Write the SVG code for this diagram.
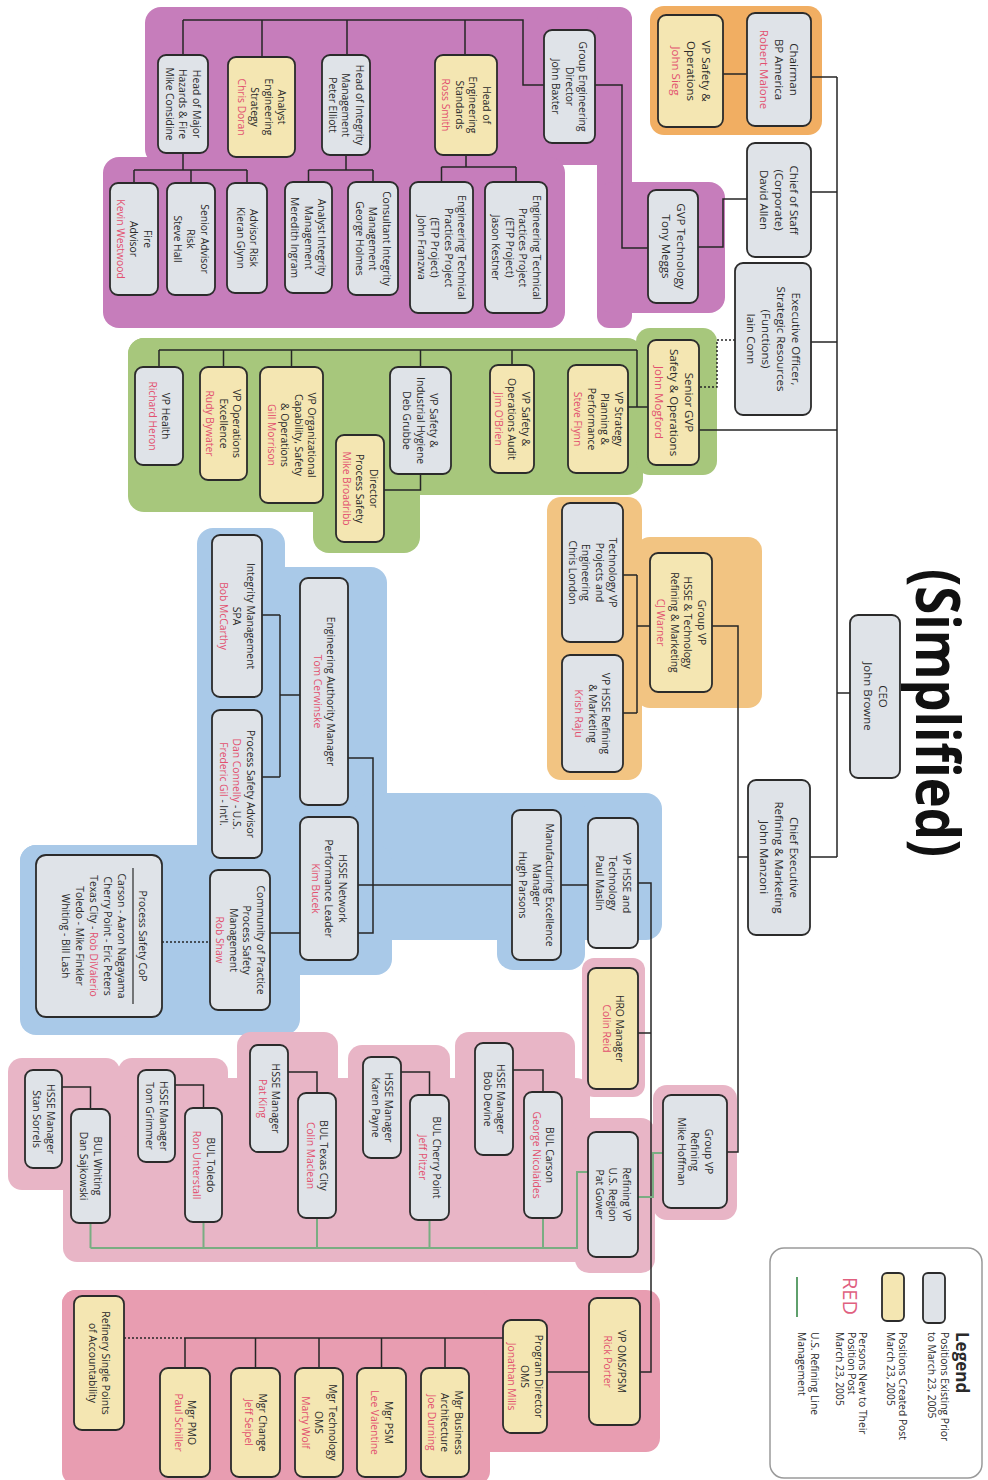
<svg xmlns="http://www.w3.org/2000/svg" width="988" height="1480" viewBox="0 0 988 1480">
<defs>
<style>
.bg{stroke:none}
.pu{fill:#c67dbb}.gr{fill:#a7c77c}.o1{fill:#f1ae62}.o2{fill:#f2c482}.bl{fill:#a9c9e8}.pk{fill:#e8b5c6}.rd{fill:#e89db1}
.b{fill:#dfe3e8;stroke:#2b2b2b;stroke-width:1.8}
.y{fill:#f4e6b2;stroke:#2b2b2b;stroke-width:1.8}
.t{font-family:"Open Sans","Noto Sans","Liberation Sans",sans-serif;font-size:10.3px;fill:#2a2a2a;text-anchor:middle}
.tl{font-size:11.5px}
.r{fill:#e2506f}
.c{fill:none;stroke:#262626;stroke-width:1.5}
.d{stroke-dasharray:2 2}
.g{fill:none;stroke:#79ad82;stroke-width:2}
.lg{font-family:"Open Sans","Noto Sans","Liberation Sans",sans-serif;font-size:10.3px;fill:#2a2a2a}
</style>
</defs>
<rect width="988" height="1480" fill="#ffffff"/>

<g id="regions" class="bg">
<rect class="o1" x="650" y="6" width="172" height="129" rx="14"/>
<rect class="pu" x="145" y="7" width="487" height="158" rx="16"/>
<rect class="pu" x="103" y="157" width="462" height="171" rx="16"/>
<rect class="pu" x="597" y="7" width="35" height="321" rx="12"/>
<rect class="pu" x="597" y="182" width="128" height="131" rx="16"/>
<rect class="gr" x="128" y="338" width="515" height="157" rx="16"/>
<rect class="gr" x="128" y="338" width="202" height="174" rx="16"/>
<rect class="gr" x="313" y="420" width="107" height="133" rx="16"/>
<rect class="gr" x="636" y="328" width="81" height="147" rx="14"/>
<rect class="o2" x="547" y="497" width="95" height="283" rx="14"/>
<rect class="o2" x="636" y="537" width="126" height="171" rx="14"/>
<rect class="bl" x="197" y="528" width="88" height="342" rx="16"/>
<rect class="bl" x="197" y="567" width="190" height="303" rx="16"/>
<rect class="bl" x="355" y="793" width="307" height="147" rx="16"/>
<rect class="bl" x="497" y="793" width="88" height="177" rx="16"/>
<rect class="bl" x="20" y="845" width="280" height="190" rx="16"/>
<rect class="bl" x="20" y="845" width="372" height="130" rx="16"/>
<rect class="pk" x="582" y="958" width="63" height="139" rx="12"/>
<rect class="pk" x="653" y="1085" width="84" height="135" rx="14"/>
<rect class="pk" x="63" y="1078" width="527" height="184" rx="14"/>
<rect class="pk" x="575" y="1118" width="80" height="155" rx="14"/>
<rect class="pk" x="455" y="1032" width="120" height="100" rx="14"/>
<rect class="pk" x="348" y="1045" width="102" height="80" rx="14"/>
<rect class="pk" x="237" y="1032" width="101" height="90" rx="14"/>
<rect class="pk" x="118" y="1058" width="110" height="80" rx="14"/>
<rect class="pk" x="8" y="1058" width="112" height="132" rx="14"/>
<rect class="rd" x="62" y="1290" width="598" height="162" rx="14"/>
<rect class="rd" x="62" y="1290" width="428" height="195" rx="14"/>
</g>

<g id="connectors">
<path class="c" d="M837,77V857M811,77H837M811,192H837M811,342H837M699,430H837M837,693H850M810,857H837"/>
<path class="c" d="M723,74H747M747,199H723V247H698M648,248H622V85H595M544,85H523V20H183M183,20V55M262,20V57M347,20V55M465,20V55"/>
<path class="c" d="M183,153V170M134,170H247M134,170V183M191,170V183M247,170V183M346,155V170M308.5,170H373M308.5,170V182M373,170V182M466,155V167M441.5,167H516M441.5,167V182M516,167V182"/>
<path class="c" d="M648,407H628M637,407V350M159,350H637M159,350V367M223.5,350V367M291.5,350V367M420.5,350V367M512,350V365M420.5,474V490H384"/>
<path class="c d" d="M735,340H717V387H699"/>
<path class="c" d="M712,626H738V1152H727M748,857H738M650,626H637M637,575V713M623,575H637M623,713H637"/>
<path class="c" d="M300,695H280M280,615V777M262,615H280M262,777H280M348,758H373V933H270M358,885H512M561,885H588"/>
<path class="c d" d="M162,942H210"/>
<path class="c" d="M638,883H651V1372H640M638,1033H651"/>
<path class="c" d="M513,1070H543V1092M401,1072H429.5V1095M288,1072H317V1093M175,1085H203.5V1108M62,1087H90.5V1109"/>
<path class="g" d="M663,1153H653V1197H638M588,1172H577V1248H90.5M543,1218V1248M429.5,1220V1248M317,1218V1248M203.5,1222V1248M90.5,1223V1248"/>
<path class="c" d="M589,1372H547M503,1338H185M185,1338V1368M255.5,1338V1368M319,1338V1368M381.5,1338V1368M445,1338V1368"/>
<path class="c d" d="M124,1338H185"/>
</g>

<g id="title"><text transform="translate(916 713) rotate(90)" x="0" y="0" textLength="288" lengthAdjust="spacingAndGlyphs" style="font-family:'Open Sans','Noto Sans',sans-serif;font-size:61px;font-weight:bold;text-anchor:middle;fill:#111">(Simplified)</text></g>

<g id="chairman"><rect class="b" x="747" y="13" width="64" height="113" rx="8"/><text class="t tl" transform="translate(779 69.5) rotate(90)"><tspan x="0" y="-11">Chairman</tspan><tspan x="0" dy="15">BP America</tspan><tspan x="0" dy="15" class="r">Robert Malone</tspan></text></g>
<g id="vp-safety-ops"><rect class="y" x="658" y="15" width="65" height="112" rx="8"/><text class="t tl" transform="translate(690.5 71) rotate(90)"><tspan x="0" y="-11">VP Safety &amp;</tspan><tspan x="0" dy="15">Operations</tspan><tspan x="0" dy="15" class="r">John Sieg</tspan></text></g>
<g id="chief-of-staff"><rect class="b" x="747" y="143" width="64" height="114" rx="8"/><text class="t tl" transform="translate(779 200) rotate(90)"><tspan x="0" y="-11">Chief of Staff</tspan><tspan x="0" dy="15">(Corporate)</tspan><tspan x="0" dy="15">David Allen</tspan></text></g>
<g id="gvp-technology"><rect class="b" x="648" y="190" width="50" height="113" rx="8"/><text class="t tl" transform="translate(673 246.5) rotate(90)"><tspan x="0" y="-3.5">GVP Technology</tspan><tspan x="0" dy="15">Tony Meggs</tspan></text></g>
<g id="exec-officer"><rect class="b" x="735" y="263" width="76" height="152" rx="8"/><text class="t tl" transform="translate(773 339) rotate(90)"><tspan x="0" y="-18.5">Executive Officer,</tspan><tspan x="0" dy="15">Strategic Resources</tspan><tspan x="0" dy="15">(Functions)</tspan><tspan x="0" dy="15">Iain Conn</tspan></text></g>
<g id="senior-gvp"><rect class="y" x="648" y="340" width="51" height="125" rx="8"/><text class="t tl" transform="translate(673.5 402.5) rotate(90)"><tspan x="0" y="-11">Senior GVP</tspan><tspan x="0" dy="15">Safety &amp; Operations</tspan><tspan x="0" dy="15" class="r">John Mogford</tspan></text></g>
<g id="ceo"><rect class="b" x="850" y="615" width="50" height="163" rx="8"/><text class="t tl" transform="translate(875 696.5) rotate(90)"><tspan x="0" y="-3.5">CEO</tspan><tspan x="0" dy="15">John Browne</tspan></text></g>
<g id="chief-exec-rm"><rect class="b" x="748" y="780" width="62" height="155" rx="8"/><text class="t tl" transform="translate(779 857.5) rotate(90)"><tspan x="0" y="-11">Chief Executive</tspan><tspan x="0" dy="15">Refining &amp; Marketing</tspan><tspan x="0" dy="15">John Manzoni</tspan></text></g>

<g id="group-eng-director"><rect class="b" x="544" y="30" width="51" height="113" rx="8"/><text class="t" transform="translate(569.5 86.5) rotate(90)"><tspan x="0" y="-9.9">Group Engineering</tspan><tspan x="0" dy="13.5">Director</tspan><tspan x="0" dy="13.5">John Baxter</tspan></text></g>
<g id="head-eng-standards"><rect class="y" x="435" y="55" width="62" height="100" rx="8"/><text class="t" transform="translate(466 105) rotate(90)"><tspan x="0" y="-16.6">Head of</tspan><tspan x="0" dy="13.5">Engineering</tspan><tspan x="0" dy="13.5">Standards</tspan><tspan x="0" dy="13.5" class="r">Ross Smith</tspan></text></g>
<g id="head-integrity"><rect class="b" x="322" y="55" width="48" height="100" rx="8"/><text class="t" transform="translate(346 105) rotate(90)"><tspan x="0" y="-9.9">Head of Integrity</tspan><tspan x="0" dy="13.5">Management</tspan><tspan x="0" dy="13.5">Peter Elliott</tspan></text></g>
<g id="analyst-eng-strategy"><rect class="y" x="228" y="57" width="67" height="100" rx="8"/><text class="t" transform="translate(261.5 107) rotate(90)"><tspan x="0" y="-16.6">Analyst</tspan><tspan x="0" dy="13.5">Engineering</tspan><tspan x="0" dy="13.5">Strategy</tspan><tspan x="0" dy="13.5" class="r">Chris Doran</tspan></text></g>
<g id="head-major-hazards"><rect class="b" x="158" y="55" width="50" height="98" rx="8"/><text class="t" transform="translate(183 104) rotate(90)"><tspan x="0" y="-9.9">Head of Major</tspan><tspan x="0" dy="13.5">Hazards &amp; Fire</tspan><tspan x="0" dy="13.5">Mike Considine</tspan></text></g>
<g id="etp-kestner"><rect class="b" x="485" y="182" width="62" height="131" rx="8"/><text class="t" transform="translate(516 247.5) rotate(90)"><tspan x="0" y="-16.6">Engineering Technical</tspan><tspan x="0" dy="13.5">Practices Project</tspan><tspan x="0" dy="13.5">(ETP Project)</tspan><tspan x="0" dy="13.5">Jason Kestner</tspan></text></g>
<g id="etp-franzwa"><rect class="b" x="410" y="182" width="63" height="131" rx="8"/><text class="t" transform="translate(441.5 247.5) rotate(90)"><tspan x="0" y="-16.6">Engineering Technical</tspan><tspan x="0" dy="13.5">Practices Project</tspan><tspan x="0" dy="13.5">(ETP Project)</tspan><tspan x="0" dy="13.5">John Franzwa</tspan></text></g>
<g id="consultant-integrity"><rect class="b" x="348" y="182" width="50" height="113" rx="8"/><text class="t" transform="translate(373 238.5) rotate(90)"><tspan x="0" y="-9.9">Consultant Integrity</tspan><tspan x="0" dy="13.5">Management</tspan><tspan x="0" dy="13.5">George Holmes</tspan></text></g>
<g id="analyst-integrity"><rect class="b" x="285" y="182" width="47" height="111" rx="8"/><text class="t" transform="translate(308.5 237.5) rotate(90)"><tspan x="0" y="-9.9">Analyst Integrity</tspan><tspan x="0" dy="13.5">Management</tspan><tspan x="0" dy="13.5">Meredith Ingram</tspan></text></g>
<g id="advisor-risk"><rect class="b" x="227" y="183" width="40" height="110" rx="8"/><text class="t" transform="translate(247 238) rotate(90)"><tspan x="0" y="-3.1">Advisor Risk</tspan><tspan x="0" dy="13.5">Kieran Glynn</tspan></text></g>
<g id="senior-advisor-risk"><rect class="b" x="167" y="183" width="48" height="112" rx="8"/><text class="t" transform="translate(191 239) rotate(90)"><tspan x="0" y="-9.9">Senior Advisor</tspan><tspan x="0" dy="13.5">Risk</tspan><tspan x="0" dy="13.5">Steve Hall</tspan></text></g>
<g id="fire-advisor"><rect class="b" x="110" y="183" width="48" height="112" rx="8"/><text class="t" transform="translate(134 239) rotate(90)"><tspan x="0" y="-9.9">Fire</tspan><tspan x="0" dy="13.5">Advisor</tspan><tspan x="0" dy="13.5" class="r">Kevin Westwood</tspan></text></g>

<g id="vp-strategy"><rect class="y" x="568" y="365" width="60" height="108" rx="8"/><text class="t" transform="translate(598 419) rotate(90)"><tspan x="0" y="-16.6">VP Strategy</tspan><tspan x="0" dy="13.5">Planning &amp;</tspan><tspan x="0" dy="13.5">Performance</tspan><tspan x="0" dy="13.5" class="r">Steve Flynn</tspan></text></g>
<g id="vp-safety-audit"><rect class="y" x="490" y="365" width="44" height="108" rx="8"/><text class="t" transform="translate(512 419) rotate(90)"><tspan x="0" y="-9.9">VP Safety &amp;</tspan><tspan x="0" dy="13.5">Operations Audit</tspan><tspan x="0" dy="13.5" class="r">Jim O'Brien</tspan></text></g>
<g id="vp-safety-ih"><rect class="b" x="390" y="367" width="61" height="107" rx="8"/><text class="t" transform="translate(420.5 420.5) rotate(90)"><tspan x="0" y="-9.9">VP Safety &amp;</tspan><tspan x="0" dy="13.5">Industrial Hygiene</tspan><tspan x="0" dy="13.5">Deb Grubbe</tspan></text></g>
<g id="dir-process-safety"><rect class="y" x="336" y="435" width="48" height="107" rx="8"/><text class="t" transform="translate(360 488.5) rotate(90)"><tspan x="0" y="-9.9">Director</tspan><tspan x="0" dy="13.5">Process Safety</tspan><tspan x="0" dy="13.5" class="r">Mike Broadribb</tspan></text></g>
<g id="vp-org-capability"><rect class="y" x="260" y="367" width="63" height="136" rx="8"/><text class="t" transform="translate(291.5 435) rotate(90)"><tspan x="0" y="-16.6">VP Organizational</tspan><tspan x="0" dy="13.5">Capability, Safety</tspan><tspan x="0" dy="13.5">&amp; Operations</tspan><tspan x="0" dy="13.5" class="r">Gill Morrison</tspan></text></g>
<g id="vp-ops-excellence"><rect class="y" x="200" y="367" width="47" height="113" rx="8"/><text class="t" transform="translate(223.5 423.5) rotate(90)"><tspan x="0" y="-9.9">VP Operations</tspan><tspan x="0" dy="13.5">Excellence</tspan><tspan x="0" dy="13.5" class="r">Rudy Bywater</tspan></text></g>
<g id="vp-health"><rect class="b" x="135" y="367" width="48" height="98" rx="8"/><text class="t" transform="translate(159 416) rotate(90)"><tspan x="0" y="-3.1">VP Health</tspan><tspan x="0" dy="13.5" class="r">Richard Heron</tspan></text></g>

<g id="tech-vp"><rect class="b" x="562" y="503" width="61" height="139" rx="8"/><text class="t" transform="translate(592.5 572.5) rotate(90)"><tspan x="0" y="-16.6">Technology VP</tspan><tspan x="0" dy="13.5">Projects and</tspan><tspan x="0" dy="13.5">Engineering</tspan><tspan x="0" dy="13.5">Chris London</tspan></text></g>
<g id="group-vp-hsse"><rect class="y" x="650" y="553" width="62" height="139" rx="8"/><text class="t" transform="translate(681 622.5) rotate(90)"><tspan x="0" y="-16.6">Group VP</tspan><tspan x="0" dy="13.5">HSSE &amp; Technology</tspan><tspan x="0" dy="13.5">Refining &amp; Marketing</tspan><tspan x="0" dy="13.5" class="r">CJ Warner</tspan></text></g>
<g id="vp-hsse-rm"><rect class="b" x="562" y="655" width="61" height="117" rx="8"/><text class="t" transform="translate(592.5 713.5) rotate(90)"><tspan x="0" y="-9.9">VP HSSE Refining</tspan><tspan x="0" dy="13.5">&amp; Marketing</tspan><tspan x="0" dy="13.5" class="r">Krish Raju</tspan></text></g>

<g id="integrity-mgmt"><rect class="b" x="212" y="535" width="50" height="162" rx="8"/><text class="t" transform="translate(237 616) rotate(90)"><tspan x="0" y="-9.9">Integrity Management</tspan><tspan x="0" dy="13.5">SPA</tspan><tspan x="0" dy="13.5" class="r">Bob McCarthy</tspan></text></g>
<g id="eng-authority"><rect class="b" x="300" y="578" width="48" height="227" rx="8"/><text class="t" transform="translate(324 691.5) rotate(90)"><tspan x="0" y="-3.1">Engineering Authority Manager</tspan><tspan x="0" dy="13.5" class="r">Tom Cerwinske</tspan></text></g>
<g id="process-safety-advisor"><rect class="b" x="212" y="710" width="50" height="148" rx="8"/><text class="t" transform="translate(237 784) rotate(90)"><tspan x="0" y="-9.9">Process Safety Advisor</tspan><tspan x="0" dy="13.5"><tspan class="r">Dan Connelly</tspan> - U.S.</tspan><tspan x="0" dy="13.5"><tspan class="r">Frederic Gil</tspan> - Int'l.</tspan></text></g>
<g id="hsse-network"><rect class="b" x="300" y="817" width="58" height="143" rx="8"/><text class="t" transform="translate(329 888.5) rotate(90)"><tspan x="0" y="-9.9">HSSE Network</tspan><tspan x="0" dy="13.5">Performance Leader</tspan><tspan x="0" dy="13.5" class="r">Kim Bucek</tspan></text></g>
<g id="community-practice"><rect class="b" x="210" y="870" width="60" height="140" rx="8"/><text class="t" transform="translate(240 940) rotate(90)"><tspan x="0" y="-16.6">Community of Practice</tspan><tspan x="0" dy="13.5">Process Safety</tspan><tspan x="0" dy="13.5">Management</tspan><tspan x="0" dy="13.5" class="r">Rob Shaw</tspan></text></g>
<g id="process-safety-cop"><rect class="b" x="36" y="855" width="126" height="162" rx="10"/><line x1="133" y1="868" x2="133" y2="1004" stroke="#2b2b2b" stroke-width="1.2"/><text class="t" transform="translate(99 936) rotate(90)"><tspan x="0" y="-40.4">Process Safety CoP</tspan><tspan x="0" y="-19.4">Carson - Aaron Nagayama</tspan><tspan x="0" y="-5.4">Cherry Point - Eric Peters</tspan><tspan x="0" y="8.6">Texas City - <tspan class="r">Rob DiValerio</tspan></tspan><tspan x="0" y="22.6">Toledo - Mike Finkler</tspan><tspan x="0" y="36.6">Whiting - Bill Lash</tspan></text></g>
<g id="mfg-excellence"><rect class="b" x="512" y="810" width="49" height="150" rx="8"/><text class="t" transform="translate(536.5 885) rotate(90)"><tspan x="0" y="-9.9">Manufacturing Excellence</tspan><tspan x="0" dy="13.5">Manager</tspan><tspan x="0" dy="13.5">Hugh Parsons</tspan></text></g>
<g id="vp-hsse-tech"><rect class="b" x="588" y="818" width="50" height="130" rx="8"/><text class="t" transform="translate(613 883) rotate(90)"><tspan x="0" y="-9.9">VP HSSE and</tspan><tspan x="0" dy="13.5">Technology</tspan><tspan x="0" dy="13.5">Paul Maslin</tspan></text></g>

<g id="hro-manager"><rect class="y" x="588" y="968" width="50" height="121" rx="8"/><text class="t" transform="translate(613 1028.5) rotate(90)"><tspan x="0" y="-3.1">HRO Manager</tspan><tspan x="0" dy="13.5" class="r">Colin Reid</tspan></text></g>
<g id="group-vp-refining"><rect class="b" x="663" y="1095" width="64" height="113" rx="8"/><text class="t" transform="translate(695 1151.5) rotate(90)"><tspan x="0" y="-9.9">Group VP</tspan><tspan x="0" dy="13.5">Refining</tspan><tspan x="0" dy="13.5">Mike Hoffman</tspan></text></g>
<g id="refining-vp-us"><rect class="b" x="588" y="1132" width="50" height="125" rx="8"/><text class="t" transform="translate(613 1194.5) rotate(90)"><tspan x="0" y="-9.9">Refining VP</tspan><tspan x="0" dy="13.5">U.S. Region</tspan><tspan x="0" dy="13.5">Pat Gower</tspan></text></g>
<g id="bul-carson"><rect class="b" x="524" y="1092" width="38" height="126" rx="8"/><text class="t" transform="translate(543 1155) rotate(90)"><tspan x="0" y="-3.1">BUL Carson</tspan><tspan x="0" dy="13.5" class="r">George Nicolaides</tspan></text></g>
<g id="hsse-devine"><rect class="b" x="475" y="1043" width="38" height="112" rx="8"/><text class="t" transform="translate(494 1099) rotate(90)"><tspan x="0" y="-3.1">HSSE Manager</tspan><tspan x="0" dy="13.5">Bob Devine</tspan></text></g>
<g id="bul-cherry-point"><rect class="b" x="410" y="1095" width="39" height="125" rx="8"/><text class="t" transform="translate(429.5 1157.5) rotate(90)"><tspan x="0" y="-3.1">BUL Cherry Point</tspan><tspan x="0" dy="13.5" class="r">Jeff Pitzer</tspan></text></g>
<g id="hsse-payne"><rect class="b" x="363" y="1057" width="38" height="101" rx="8"/><text class="t" transform="translate(382 1107.5) rotate(90)"><tspan x="0" y="-3.1">HSSE Manager</tspan><tspan x="0" dy="13.5">Karen Payne</tspan></text></g>
<g id="bul-texas-city"><rect class="b" x="298" y="1093" width="38" height="125" rx="8"/><text class="t" transform="translate(317 1155.5) rotate(90)"><tspan x="0" y="-3.1">BUL Texas City</tspan><tspan x="0" dy="13.5" class="r">Colin Maclean</tspan></text></g>
<g id="hsse-king"><rect class="b" x="250" y="1045" width="38" height="107" rx="8"/><text class="t" transform="translate(269 1098.5) rotate(90)"><tspan x="0" y="-3.1">HSSE Manager</tspan><tspan x="0" dy="13.5" class="r">Pat King</tspan></text></g>
<g id="bul-toledo"><rect class="b" x="185" y="1108" width="37" height="114" rx="8"/><text class="t" transform="translate(203.5 1165) rotate(90)"><tspan x="0" y="-3.1">BUL Toledo</tspan><tspan x="0" dy="13.5" class="r">Ron Unterstall</tspan></text></g>
<g id="hsse-grimmer"><rect class="b" x="138" y="1070" width="37" height="92" rx="8"/><text class="t" transform="translate(156.5 1116) rotate(90)"><tspan x="0" y="-3.1">HSSE Manager</tspan><tspan x="0" dy="13.5">Tom Grimmer</tspan></text></g>
<g id="bul-whiting"><rect class="b" x="71" y="1109" width="39" height="114" rx="8"/><text class="t" transform="translate(90.5 1166) rotate(90)"><tspan x="0" y="-3.1">BUL Whiting</tspan><tspan x="0" dy="13.5">Dan Sajkowski</tspan></text></g>
<g id="hsse-sorrels"><rect class="b" x="25" y="1070" width="37" height="98" rx="8"/><text class="t" transform="translate(43.5 1119) rotate(90)"><tspan x="0" y="-3.1">HSSE Manager</tspan><tspan x="0" dy="13.5">Stan Sorrels</tspan></text></g>

<g id="vp-oms-psm"><rect class="y" x="589" y="1298" width="51" height="127" rx="8"/><text class="t" transform="translate(614.5 1361.5) rotate(90)"><tspan x="0" y="-3.1">VP OMS/PSM</tspan><tspan x="0" dy="13.5" class="r">Rick Porter</tspan></text></g>
<g id="program-director"><rect class="y" x="503" y="1320" width="44" height="113" rx="8"/><text class="t" transform="translate(525 1376.5) rotate(90)"><tspan x="0" y="-9.9">Program Director</tspan><tspan x="0" dy="13.5">OMS</tspan><tspan x="0" dy="13.5" class="r">Jonathan Mills</tspan></text></g>
<g id="mgr-business-arch"><rect class="y" x="421" y="1368" width="48" height="109" rx="8"/><text class="t" transform="translate(445 1422.5) rotate(90)"><tspan x="0" y="-9.9">Mgr Business</tspan><tspan x="0" dy="13.5">Architecture</tspan><tspan x="0" dy="13.5" class="r">Joe Durning</tspan></text></g>
<g id="mgr-psm"><rect class="y" x="357" y="1368" width="49" height="109" rx="8"/><text class="t" transform="translate(381.5 1422.5) rotate(90)"><tspan x="0" y="-3.1">Mgr PSM</tspan><tspan x="0" dy="13.5" class="r">Lee Valentine</tspan></text></g>
<g id="mgr-technology"><rect class="y" x="295" y="1368" width="48" height="109" rx="8"/><text class="t" transform="translate(319 1422.5) rotate(90)"><tspan x="0" y="-9.9">Mgr Technology</tspan><tspan x="0" dy="13.5">OMS</tspan><tspan x="0" dy="13.5" class="r">Marty Wolf</tspan></text></g>
<g id="mgr-change"><rect class="y" x="231" y="1368" width="49" height="109" rx="8"/><text class="t" transform="translate(255.5 1422.5) rotate(90)"><tspan x="0" y="-3.1">Mgr Change</tspan><tspan x="0" dy="13.5" class="r">Jeff Seipel</tspan></text></g>
<g id="mgr-pmo"><rect class="y" x="160" y="1368" width="50" height="109" rx="8"/><text class="t" transform="translate(185 1422.5) rotate(90)"><tspan x="0" y="-3.1">Mgr PMO</tspan><tspan x="0" dy="13.5" class="r">Paul Schiller</tspan></text></g>
<g id="refinery-spoa"><rect class="y" x="74" y="1296" width="50" height="134" rx="8"/><text class="t" transform="translate(99 1363) rotate(90)"><tspan x="0" y="-3.1">Refinery Single Points</tspan><tspan x="0" dy="13.5">of Accountability</tspan></text></g>

<g id="legend">
<rect x="770" y="1248" width="212" height="230" rx="14" fill="#ffffff" stroke="#9a9a9a" stroke-width="1.5"/>
<text class="lg" transform="translate(956 1332) rotate(90)" style="font-size:17px;font-weight:bold">Legend</text>
<rect class="b" x="923" y="1273" width="22" height="50" rx="5"/>
<text class="lg" transform="translate(941 1332) rotate(90)"><tspan x="0" y="0">Positions Existing Prior</tspan><tspan x="0" dy="13">to March 23, 2005</tspan></text>
<rect class="y" x="882" y="1273" width="22" height="48" rx="5"/>
<text class="lg" transform="translate(899 1332) rotate(90)"><tspan x="0" y="0">Positions Created Post</tspan><tspan x="0" dy="12">March 23, 2005</tspan></text>
<text transform="translate(843 1277) rotate(90)" style="font-family:'Open Sans','Noto Sans',sans-serif;font-size:20px;fill:#e0607f">RED</text>
<text class="lg" transform="translate(859 1332) rotate(90)"><tspan x="0" y="0">Persons New to Their</tspan><tspan x="0" dy="11.5">Position Post</tspan><tspan x="0" dy="11.5">March 23, 2005</tspan></text>
<line x1="797" y1="1277" x2="797" y2="1317" stroke="#5fa06c" stroke-width="2"/>
<text class="lg" transform="translate(811 1332) rotate(90)"><tspan x="0" y="0">U.S. Refining Line</tspan><tspan x="0" dy="13">Management</tspan></text>
</g>
</svg>
